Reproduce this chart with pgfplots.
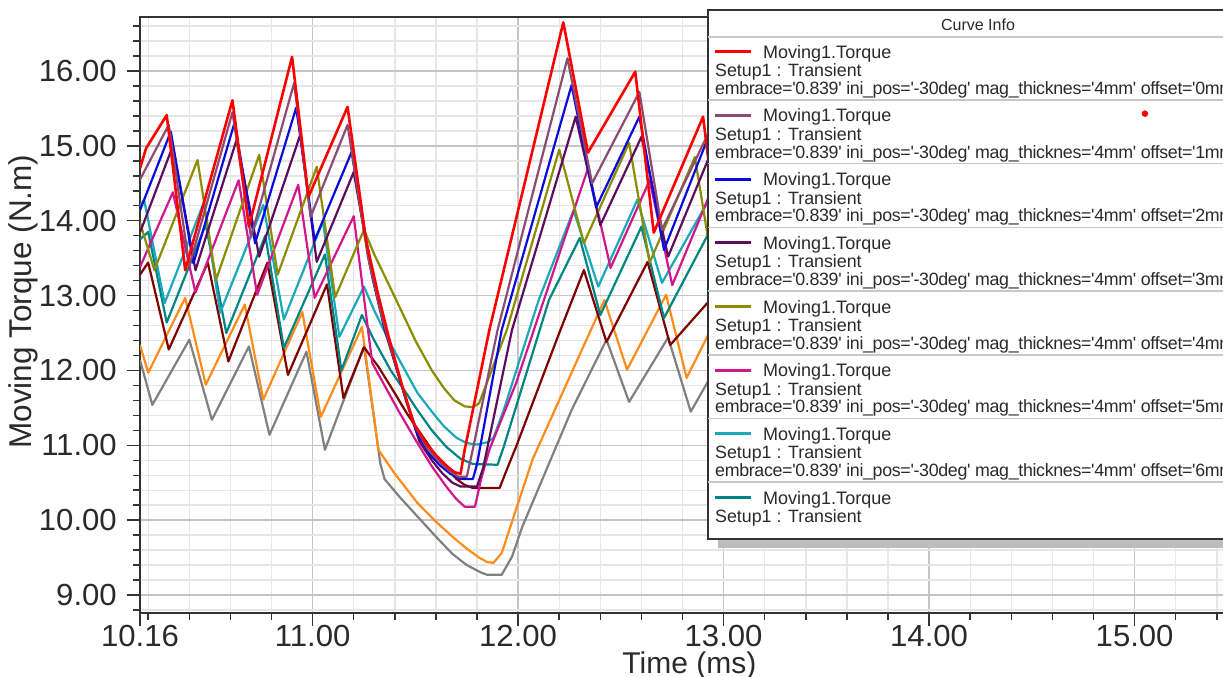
\documentclass[border=0pt]{standalone}
\usepackage{fontspec}
\setmainfont{Liberation Sans}
\newfontfamily\legfont{Liberation Sans}
\newfontfamily\legwide{Liberation Sans}[LetterSpace=-1.8]
\newfontfamily\tickfont{Liberation Sans}[FakeStretch=1.02]
\usepackage{pgfplots}
\pgfplotsset{compat=1.18}
\definecolor{c0}{HTML}{FF0000}
\definecolor{c1}{HTML}{8C4B72}
\definecolor{c2}{HTML}{0A0ADC}
\definecolor{c3}{HTML}{5E0C5E}
\definecolor{c4}{HTML}{8C8C00}
\definecolor{c5}{HTML}{D2168C}
\definecolor{c6}{HTML}{1AA8BA}
\definecolor{c7}{HTML}{008484}
\definecolor{c8}{HTML}{800000}
\definecolor{c9}{HTML}{FF8C1A}
\definecolor{c10}{HTML}{808080}
\definecolor{gridminor}{HTML}{E6E6E6}
\definecolor{gridmajor}{HTML}{C4C4C4}
\definecolor{axisc}{HTML}{333333}
\definecolor{txt}{HTML}{2A2A2A}
\definecolor{shadowc}{HTML}{BDBDBD}
\definecolor{sepc}{HTML}{C8C8C8}
\begin{document}
\begin{tikzpicture}[x=1pt,y=1pt]
\useasboundingbox (0,0) rectangle (1223,677);
\clip (0,0) rectangle (1223,677);
\begin{axis}[
  at={(140pt,64pt)}, anchor=south west,
  scale only axis, width=1097.4pt, height=595.9pt,
  xmin=10.16, xmax=15.5, ymin=8.76, ymax=16.72,
  xtick={10.16,11,12,13,14,15},
  minor xtick={10.2,10.4,10.6,10.8,11.2,11.4,11.6,11.8,12.2,12.4,12.6,12.8,13.2,13.4,13.6,13.8,14.2,14.4,14.6,14.8,15.2,15.4},
  ytick={9,10,...,16},
  minor ytick={8.8,9.2,9.4,9.6,9.8,10.2,10.4,10.6,10.8,11.2,11.4,11.6,11.8,12.2,12.4,12.6,12.8,13.2,13.4,13.6,13.8,14.2,14.4,14.6,14.8,15.2,15.4,15.6,15.8,16.2,16.4,16.6},
  grid=both,
  minor grid style={draw=gridminor, line width=1.4pt},
  major grid style={draw=gridmajor, line width=1.4pt},
  axis line style={draw=axisc, line width=2pt},
  tick style={draw=axisc, line width=1.5pt},
  tick align=outside,
  major tick length=13pt, minor tick length=7pt,
  xtick pos=left, ytick pos=left,
  /pgf/number format/assume math mode=true,
  ticklabel style={font=\tickfont\fontsize{30.5}{36}\selectfont, text=txt, inner sep=2pt},
  xticklabel style={yshift=3pt, /pgf/number format/fixed, /pgf/number format/fixed zerofill, /pgf/number format/precision=2},
  yticklabel style={xshift=-8pt, /pgf/number format/fixed, /pgf/number format/fixed zerofill, /pgf/number format/precision=2},
  xlabel={Time (ms)}, ylabel={Moving Torque (N.m)},
  label style={text=txt},
  xlabel style={font=\fontsize{30}{36}\selectfont, at={(axis description cs:0.5006,-0.1007)}, anchor=base},
  ylabel style={font=\fontsize{31.5}{36}\selectfont, at={(axis description cs:-0.0985,0.5227)}, anchor=base, rotate=0},
  every axis plot/.append style={line join=round, line width=2.2pt},
]
% offset 10mm
\addplot[c10] coordinates {(10.16,12.14) (10.22,11.54) (10.40,12.41) (10.51,11.34) (10.69,12.32) (10.79,11.14) (10.97,12.25) (11.06,10.94) (11.25,12.32) (11.33,10.75) (11.35,10.55) (11.42,10.32) (11.51,10.05) (11.60,9.78) (11.68,9.55) (11.75,9.40) (11.82,9.30) (11.85,9.27) (11.92,9.27) (11.97,9.51) (12.02,9.91) (12.26,11.47) (12.43,12.41) (12.54,11.58) (12.73,12.44) (12.84,11.45) (12.94,11.93)};
% offset 9mm
\addplot[c9] coordinates {(10.16,12.34) (10.20,11.97) (10.38,12.97) (10.48,11.81) (10.67,12.88) (10.76,11.61) (10.95,12.78) (11.04,11.38) (11.24,12.58) (11.32,10.94) (11.40,10.62) (11.51,10.23) (11.60,9.98) (11.68,9.78) (11.75,9.62) (11.81,9.50) (11.85,9.44) (11.88,9.43) (11.92,9.56) (12.07,10.81) (12.26,11.97) (12.42,12.94) (12.53,12.01) (12.72,13.01) (12.82,11.90) (12.94,12.56)};
% offset 8mm
\addplot[c8] coordinates {(10.16,13.28) (10.20,13.44) (10.30,12.28) (10.49,13.44) (10.59,12.12) (10.78,13.44) (10.88,11.94) (11.07,13.15) (11.15,11.63) (11.25,12.31) (11.32,12.05) (11.39,11.74) (11.46,11.42) (11.52,11.18) (11.59,10.90) (11.65,10.70) (11.70,10.55) (11.74,10.47) (11.78,10.43) (11.91,10.43) (11.95,10.71) (11.99,10.98) (12.20,12.50) (12.32,13.34) (12.43,12.38) (12.63,13.45) (12.74,12.34) (12.94,12.96)};
% offset 7mm
\addplot[c7] coordinates {(10.16,13.75) (10.20,13.85) (10.29,12.64) (10.48,13.95) (10.58,12.50) (10.77,13.80) (10.86,12.30) (11.06,13.55) (11.14,12.00) (11.24,12.74) (11.30,12.40) (11.38,12.00) (11.45,11.72) (11.51,11.47) (11.58,11.20) (11.65,10.98) (11.72,10.82) (11.78,10.75) (11.90,10.74) (11.93,10.98) (12.15,12.94) (12.30,13.77) (12.40,12.74) (12.60,13.92) (12.71,12.70) (12.94,13.90)};
% offset 6mm
\addplot[c6] coordinates {(10.16,14.20) (10.18,14.28) (10.28,12.90) (10.47,14.24) (10.55,12.77) (10.76,14.21) (10.86,12.68) (11.05,13.99) (11.13,12.45) (11.25,13.12) (11.30,12.80) (11.38,12.35) (11.45,12.00) (11.51,11.70) (11.58,11.45) (11.64,11.25) (11.70,11.10) (11.75,11.03) (11.80,11.01) (11.85,11.04) (11.88,11.10) (11.93,11.47) (12.10,12.94) (12.27,14.14) (12.39,13.12) (12.58,14.28) (12.70,13.17) (12.94,14.34)};
% offset 5mm
\addplot[c5] coordinates {(10.16,13.38) (10.32,14.38) (10.43,13.04) (10.64,14.54) (10.73,13.01) (10.93,14.48) (11.01,12.97) (11.20,14.06) (11.29,12.10) (11.35,11.80) (11.42,11.45) (11.51,11.03) (11.58,10.72) (11.65,10.45) (11.70,10.28) (11.74,10.18) (11.79,10.18) (11.82,10.55) (11.86,10.94) (11.99,11.83) (12.34,14.70) (12.45,13.37) (12.64,14.54) (12.75,13.14) (12.94,14.40)};
% offset 4mm
\addplot[c4] coordinates {(10.16,13.98) (10.23,13.34) (10.44,14.81) (10.53,13.21) (10.74,14.88) (10.83,13.28) (11.02,14.72) (11.11,12.98) (11.25,13.88) (11.30,13.55) (11.40,12.98) (11.50,12.40) (11.58,12.00) (11.64,11.76) (11.69,11.60) (11.74,11.52) (11.78,11.51) (11.81,11.56) (11.945,12.54) (12.20,14.95) (12.32,13.70) (12.54,15.04) (12.64,13.44) (12.86,14.85) (12.94,13.50)};
% offset 3mm
\addplot[c3] coordinates {(10.16,13.84) (10.32,15.00) (10.43,13.34) (10.63,15.08) (10.74,13.52) (10.94,15.15) (11.02,13.45) (11.20,14.65) (11.29,13.25) (11.35,12.55) (11.40,12.10) (11.46,11.55) (11.52,11.05) (11.58,10.80) (11.63,10.63) (11.68,10.50) (11.72,10.45) (11.80,10.45) (11.83,10.70) (11.97,12.54) (12.28,15.39) (12.40,13.94) (12.60,15.12) (12.73,13.52) (12.94,14.92)};
% offset 2mm
\addplot[c2] coordinates {(10.16,14.14) (10.31,15.19) (10.42,13.43) (10.62,15.31) (10.72,13.70) (10.92,15.51) (11.01,13.74) (11.19,14.92) (11.28,13.40) (11.34,12.70) (11.39,12.20) (11.45,11.65) (11.51,11.15) (11.57,10.88) (11.62,10.73) (11.67,10.62) (11.72,10.55) (11.78,10.55) (11.80,10.75) (11.92,12.54) (12.26,15.81) (12.38,14.18) (12.59,15.39) (12.71,13.61) (12.94,15.22)};
% offset 1mm
\addplot[c1] coordinates {(10.16,14.55) (10.30,15.28) (10.40,13.40) (10.61,15.45) (10.70,13.78) (10.91,15.84) (10.99,14.05) (11.17,15.28) (11.27,13.50) (11.33,12.80) (11.38,12.30) (11.44,11.75) (11.50,11.25) (11.56,10.95) (11.62,10.77) (11.67,10.65) (11.71,10.58) (11.75,10.58) (11.78,10.95) (11.90,12.54) (12.24,16.17) (12.36,14.50) (12.59,15.72) (12.70,13.88) (12.94,15.25)};
% offset 0mm
\addplot[c0, line width=2.6pt] coordinates {(10.16,14.70) (10.19,14.97) (10.29,15.41) (10.38,13.34) (10.61,15.61) (10.69,13.92) (10.90,16.19) (10.98,14.32) (11.17,15.52) (11.26,13.74) (11.32,13.00) (11.37,12.45) (11.43,11.85) (11.49,11.30) (11.55,11.03) (11.60,10.87) (11.65,10.73) (11.69,10.64) (11.72,10.62) (11.74,10.94) (11.86,12.54) (12.22,16.65) (12.34,14.91) (12.57,15.99) (12.66,13.84) (12.90,15.39) (12.94,14.50)};
\end{axis}
% legend
\fill[shadowc] (718,129) rectangle (1240,658);
\filldraw[fill=white, draw=axisc, line width=1.5pt] (708,138) rectangle (1240,667);
\draw[sepc, line width=1.5pt] (708,640) -- (1240,640);
\node[anchor=base, inner sep=0pt, font=\legfont\fontsize{16}{19}\selectfont, text=txt] at (978,646.3) {Curve Info};
\foreach \c [count=\k from 0] in {c0,c1,c2,c3,c4,c5,c6} {
  \pgfmathsetmacro{\ya}{618.7-63.7*\k}
  \pgfmathsetmacro{\yl}{625.3-63.7*\k}
  \pgfmathsetmacro{\yb}{600.3-63.7*\k}
  \pgfmathsetmacro{\yc}{582.5-63.7*\k}
  \pgfmathsetmacro{\ys}{577-63.7*\k}
  \draw[\c, line width=3pt] (715,\yl) -- (751,\yl);
  \node[anchor=base west, inner sep=0pt, font=\legfont\fontsize{18}{20}\selectfont, text=txt] at (763,\ya) {Moving1.Torque};
  \node[anchor=base west, inner sep=0pt, font=\legfont\fontsize{17.8}{20}\selectfont, text=txt] at (715,\yb) {Setup1 : Transient};
  \node[anchor=base west, inner sep=0pt, font=\legwide\fontsize{17.8}{20}\selectfont, text=txt] at (715,\yc) {embrace='0.839' ini\_pos='-30deg' mag\_thicknes='4mm' offset='\k mm'};
  \draw[sepc, line width=1.5pt] (708,\ys) -- (1240,\ys);
}
\draw[c7, line width=3pt] (715,179.4) -- (751,179.4);
\node[anchor=base west, inner sep=0pt, font=\legfont\fontsize{18}{20}\selectfont, text=txt] at (763,172.8) {Moving1.Torque};
\node[anchor=base west, inner sep=0pt, font=\legfont\fontsize{17.8}{20}\selectfont, text=txt] at (715,154.4) {Setup1 : Transient};
% red marker on top of the legend
\begin{axis}[
  at={(140pt,64pt)}, anchor=south west,
  scale only axis, width=1097.4pt, height=595.9pt,
  xmin=10.16, xmax=15.5, ymin=8.76, ymax=16.72,
  hide axis]
\addplot[only marks, mark=*, mark size=3pt, c0] coordinates {(15.05,15.43)};
\end{axis}
\end{tikzpicture}
\end{document}
